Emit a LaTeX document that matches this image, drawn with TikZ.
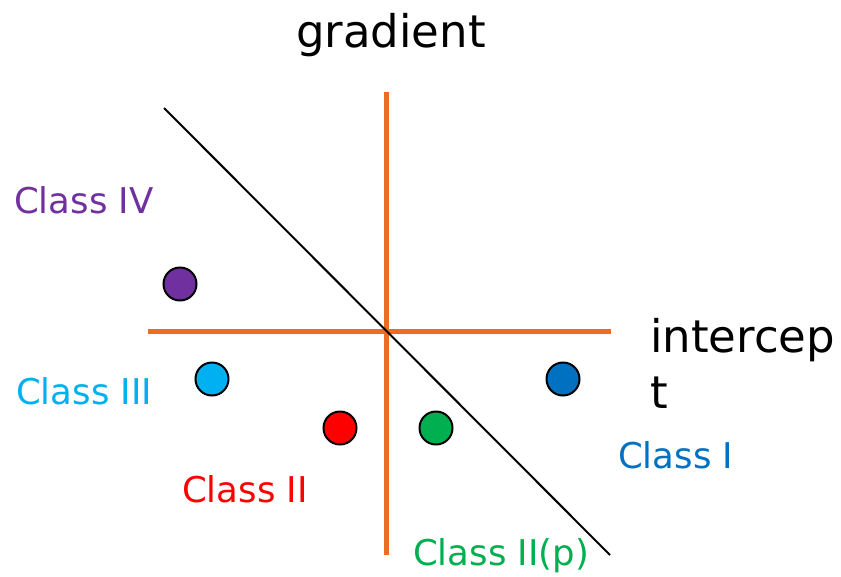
\documentclass[tikz,border=0pt]{standalone}
\usepackage{fontspec}
\setmainfont{DejaVu Sans}
\definecolor{axorange}{RGB}{237,108,36}
\definecolor{cpurple}{RGB}{112,48,160}
\definecolor{ccyan}{RGB}{0,176,240}
\definecolor{cred}{RGB}{255,0,0}
\definecolor{cgreen}{RGB}{0,176,80}
\definecolor{cblue}{RGB}{0,112,192}
\tikzset{
  axis/.style={draw=axorange,line width=5pt},
  dot/.style={circle,draw=black,line width=2pt,minimum size=33pt,inner sep=0pt},
  lbl/.style={anchor=base west,inner sep=0pt,font=\fontsize{35.5}{35.5}\selectfont},
  big/.style={anchor=base west,inner sep=0pt,font=\fontsize{45}{45}\selectfont},
}
\begin{document}
\begin{tikzpicture}[x=1pt,y=-1pt]
\useasboundingbox (0,0) rectangle (841,576);
\coordinate (vt) at (386,92);
\coordinate (vb) at (386,555);
\coordinate (hl) at (148,331);
\coordinate (hr) at (611,331);
\coordinate (dt) at (164,108);
\coordinate (db) at (610,555);
\draw[axis] (vt) -- (vb);
\draw[axis] (hl) -- (hr);
\draw[black,line width=2pt] (dt) -- (db);
\node[dot,fill=cpurple] (p4) at (180,284) {};
\node[dot,fill=ccyan] (p3) at (212,379) {};
\node[dot,fill=cred] (p2) at (340,428) {};
\node[dot,fill=cgreen] (p2p) at (436,428) {};
\node[dot,fill=cblue] (p1) at (563,379) {};
\node[big] (grad) at (296,47) {gradient};
\node[big] (int1) at (650,352) {intercep};
\node[big] (int2) at (650,408) {t};
\node[lbl,text=cpurple] (l4) at (14,213) {Class IV};
\node[lbl,text=ccyan] (l3) at (16,404) {Class III};
\node[lbl,text=cred] (l2) at (182,502) {Class II};
\node[lbl,text=cgreen] (l2p) at (413,565) {Class II(p)};
\node[lbl,text=cblue] (l1) at (618,468) {Class I};
\end{tikzpicture}
\end{document}
